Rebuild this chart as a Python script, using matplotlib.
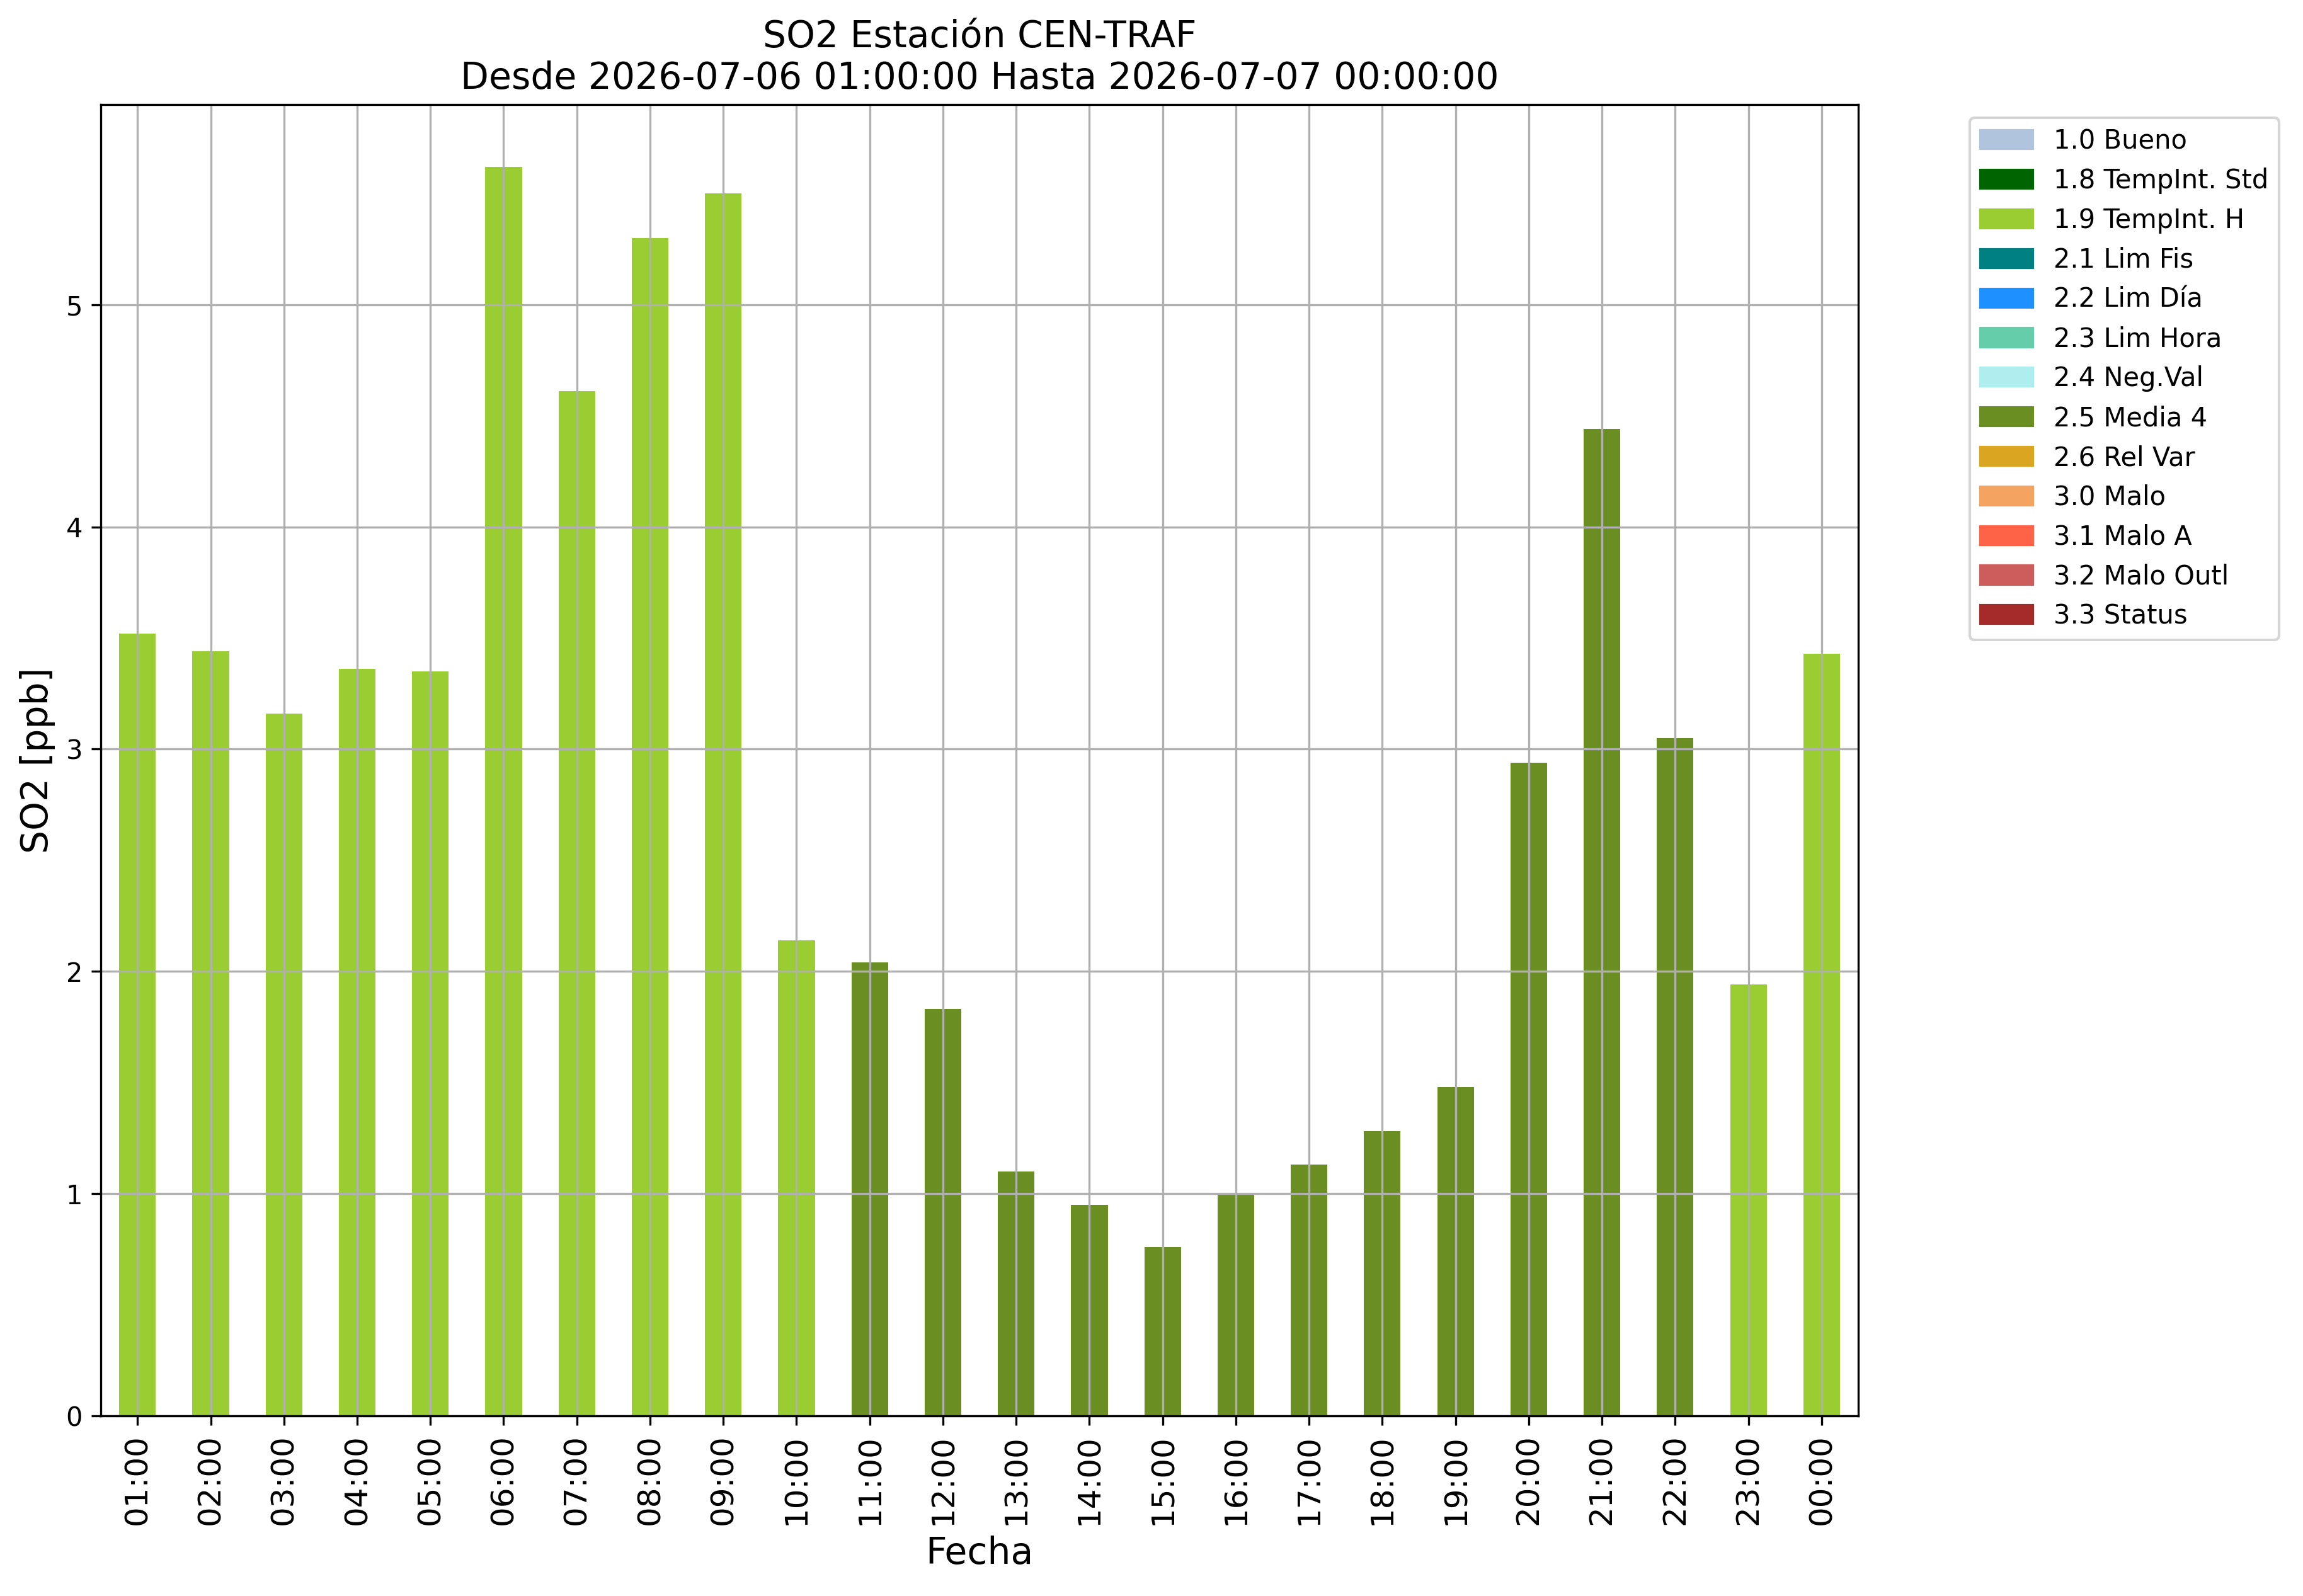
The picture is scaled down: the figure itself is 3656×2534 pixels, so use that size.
import matplotlib
matplotlib.use("Agg")
import matplotlib.pyplot as plt
from matplotlib.patches import Patch
import numpy as np

horas = ["01:00", "02:00", "03:00", "04:00", "05:00", "06:00", "07:00", "08:00",
         "09:00", "10:00", "11:00", "12:00", "13:00", "14:00", "15:00", "16:00",
         "17:00", "18:00", "19:00", "20:00", "21:00", "22:00", "23:00", "00:00"]
so2 = [3.52, 3.44, 3.16, 3.36, 3.35, 5.62, 4.61, 5.30,
       5.50, 2.14, 2.04, 1.83, 1.10, 0.95, 0.76, 1.00,
       1.13, 1.28, 1.48, 2.94, 4.44, 3.05, 1.94, 3.43]
flags = ["1.9", "1.9", "1.9", "1.9", "1.9", "1.9", "1.9", "1.9",
         "1.9", "1.9", "2.5", "2.5", "2.5", "2.5", "2.5", "2.5",
         "2.5", "2.5", "2.5", "2.5", "2.5", "2.5", "1.9", "1.9"]

flag_codes = ["1.0", "1.8", "1.9", "2.1", "2.2", "2.3", "2.4", "2.5", "2.6",
              "3.0", "3.1", "3.2", "3.3"]
flag_names = ["1.0 Bueno", "1.8 TempInt. Std", "1.9 TempInt. H", "2.1 Lim Fis",
              "2.2 Lim Día", "2.3 Lim Hora", "2.4 Neg.Val", "2.5 Media 4",
              "2.6 Rel Var", "3.0 Malo", "3.1 Malo A", "3.2 Malo Outl", "3.3 Status"]
flag_colors = ["lightsteelblue", "darkgreen", "yellowgreen", "teal", "dodgerblue",
               "mediumaquamarine", "paleturquoise", "olivedrab", "goldenrod",
               "sandybrown", "tomato", "indianred", "brown"]


def main():
    fig = plt.figure(figsize=(3656 / 300, 2534 / 300), dpi=300)
    ax = fig.add_subplot(111)
    fig.subplots_adjust(left=0.0438, right=0.8069, top=0.9345, bottom=0.1129)

    x = np.arange(len(horas))
    vals = np.array(so2)
    fl = np.array(flags)
    for code, name, col in zip(flag_codes, flag_names, flag_colors):
        mask = fl == code
        if mask.any():
            ax.bar(x[mask], vals[mask], width=0.5, color=col)

    ax.set_xlim(-0.5, len(horas) - 0.5)
    ax.set_xticks(x)
    ax.set_xticklabels(horas, rotation=90, fontsize=12)
    ax.tick_params(axis="y", labelsize=10)
    ax.grid(True)

    ax.set_title("SO2 Estación CEN-TRAF\nDesde 2026-07-06 01:00:00 Hasta 2026-07-07 00:00:00",
                 fontsize=14)
    ax.set_xlabel("Fecha", fontsize=14)
    ax.set_ylabel("SO2 [ppb]", fontsize=14)

    handles = [Patch(color=c, label=n) for n, c in zip(flag_names, flag_colors)]
    ax.legend(handles=handles, loc="upper left", bbox_to_anchor=(1.056, 1), fontsize=10)

    fig.savefig("out.png", dpi=300)


if __name__ == "__main__":
    main()
